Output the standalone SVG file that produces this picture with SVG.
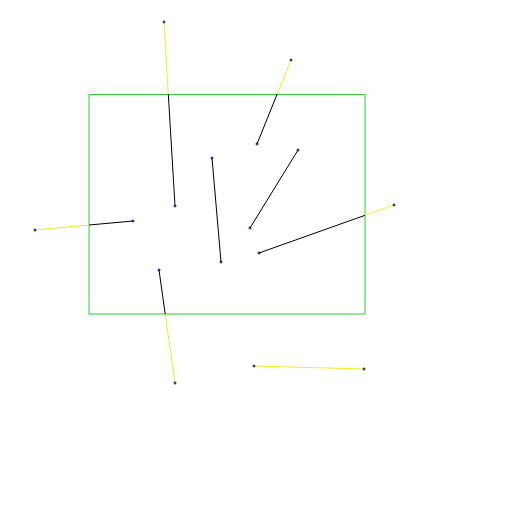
<svg xmlns="http://www.w3.org/2000/svg" width="512" height="512" viewBox="0 0 512 512">
<style>
.in{stroke:#000;stroke-width:1;fill:none}
.out{stroke:#f0f020;stroke-width:1;fill:none}
.pt{stroke:#000066;stroke-width:1;fill:none}
</style>
<defs>
<path id="x" d="M-1.5,0H1.5M0,-1.5V1.5" class="pt"/>
</defs>
<rect width="512" height="512" fill="#fff"/>
<g id="clip-rect"><rect x="89" y="94.5" width="276" height="219.5" fill="none" stroke="#33cc33" stroke-width="1"/></g>
<g id="connectors">
<line class="out" x1="164" y1="22" x2="168.3" y2="94"/><line class="in" x1="168.3" y1="94" x2="175" y2="206"/>
<line class="out" x1="291" y1="60" x2="277.2" y2="94"/><line class="in" x1="277.2" y1="94" x2="257" y2="144"/>
<line class="out" x1="35" y1="230" x2="89" y2="225"/><line class="in" x1="89" y1="225" x2="133" y2="221"/>
<line class="in" x1="159" y1="270" x2="165.2" y2="314"/><line class="out" x1="165.2" y1="314" x2="175" y2="383"/>
<line class="out" x1="254" y1="366" x2="364" y2="369"/>
<line class="in" x1="212" y1="158" x2="221" y2="262"/>
<line class="in" x1="298" y1="150" x2="250" y2="228"/>
<line class="out" x1="394" y1="205" x2="365" y2="215.3"/><line class="in" x1="365" y1="215.3" x2="259" y2="253"/>
</g>
<g id="points">
<use href="#x" x="164" y="22"/><use href="#x" x="175" y="206"/>
<use href="#x" x="291" y="60"/><use href="#x" x="257" y="144"/>
<use href="#x" x="35" y="230"/><use href="#x" x="133" y="221"/>
<use href="#x" x="159" y="270"/><use href="#x" x="175" y="383"/>
<use href="#x" x="254" y="366"/><use href="#x" x="364" y="369"/>
<use href="#x" x="212" y="158"/><use href="#x" x="221" y="262"/>
<use href="#x" x="298" y="150"/><use href="#x" x="250" y="228"/>
<use href="#x" x="394" y="205"/><use href="#x" x="259" y="253"/>
</g>
</svg>
